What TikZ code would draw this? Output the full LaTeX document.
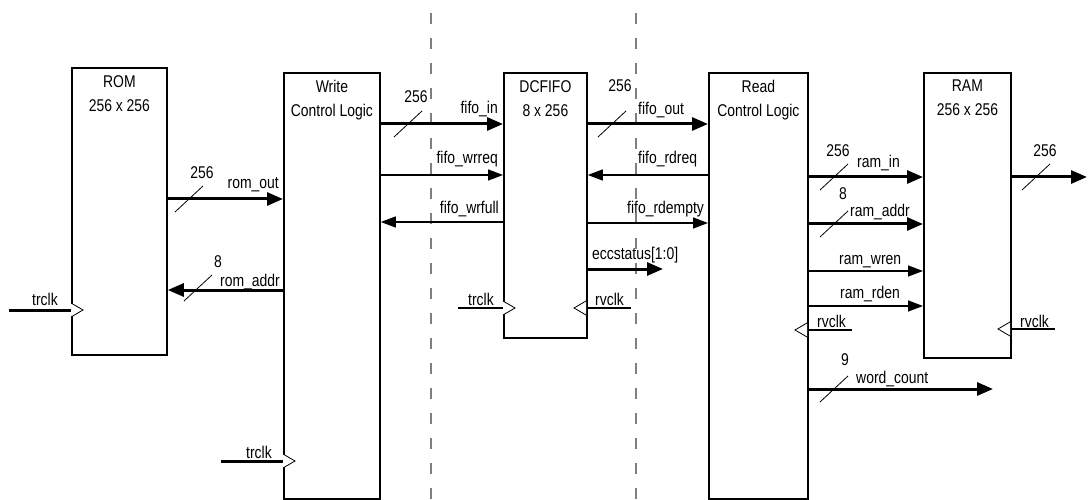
\documentclass[tikz,border=0pt]{standalone}
\usepackage{fontspec}
\setmainfont{Liberation Sans}[FakeStretch=0.82]
\usepackage{tikz}
\usetikzlibrary{arrows.meta}
\definecolor{inkDash}{HTML}{7F7F7F}

\begin{document}
\begin{tikzpicture}[x=1pt, y=-1pt, every node/.style={font=\fontsize{17}{24}\selectfont, inner sep=0pt},
  blk/.style={draw, line width=1.8pt, anchor=north west, inner sep=0pt},
  ttl/.style={anchor=north, align=center, yshift=-8pt},
  lbl/.style={anchor=base west},
  bus/.style={line width=3pt},
  sig/.style={line width=1.4pt},
  bushead/.style={-{Triangle[length=16pt,width=13pt]}},
  sighead/.style={-{Triangle[length=15pt,width=11pt]}},
  tick/.style={line width=0.8pt},
  clk/.style={line width=0.8pt},
  sep/.style={draw=inkDash, line width=1.2pt, dash pattern=on 11pt off 14pt}]
\useasboundingbox (0,0) rectangle (1088,500);

% clock domain boundaries
\coordinate (d1t) at (431,13); \coordinate (d1b) at (431,500);
\coordinate (d2t) at (636,13); \coordinate (d2b) at (636,500);
\draw[sep] (d1t) -- (d1b);
\draw[sep] (d2t) -- (d2b);

% blocks
\node[blk, minimum width=95pt, minimum height=287pt] (rom) at (71,67) {};
\node[blk, minimum width=96pt, minimum height=426pt] (wcl) at (283,72) {};
\node[blk, minimum width=83pt, minimum height=265pt] (fifo) at (503,72) {};
\node[blk, minimum width=99pt, minimum height=426pt] (rcl) at (708,72) {};
\node[blk, minimum width=87pt, minimum height=285pt] (ram) at (923,72) {};
\node[ttl] (trom) at (rom.north) {ROM\\256 x 256};
\node[ttl] (twcl) at (wcl.north) {Write\\Control Logic};
\node[ttl] (tfifo) at (fifo.north) {DCFIFO\\8 x 256};
\node[ttl] (trcl) at (rcl.north) {Read\\Control Logic};
\node[ttl] (tram) at (ram.north) {RAM\\256 x 256};

% free ends
\coordinate (clkA) at (9,310);
\coordinate (clkB) at (221,461);
\coordinate (clkC) at (458,308);
\coordinate (clkD) at (631,308);
\coordinate (eccout) at (663,269);
\coordinate (clkE) at (852,330);
\coordinate (dout) at (1087,177);
\coordinate (clkF) at (1055,329);
\coordinate (wcout) at (993,389);

% write side
\draw[bus, bushead] (rom.east |- 0,199) -- (wcl.west |- 0,199);
\draw[bus, bushead] (wcl.west |- 0,290) -- (rom.east |- 0,290);
\draw[bus] (clkA) -- (rom.west |- 0,310);
\draw[bus] (clkB) -- (wcl.west |- 0,461);
\draw[bus, bushead] (wcl.east |- 0,124) -- (fifo.west |- 0,124);
\draw[sig, sighead] (wcl.east |- 0,175) -- (fifo.west |- 0,175);
\draw[sig, sighead] (fifo.west |- 0,222) -- (wcl.east |- 0,222);
\draw[sig] (clkC) -- (fifo.west |- 0,308);

% read side
\draw[sig] (fifo.east |- 0,308) -- (clkD);
\draw[bus, bushead] (fifo.east |- 0,124) -- (rcl.west |- 0,124);
\draw[sig, sighead] (rcl.west |- 0,175) -- (fifo.east |- 0,175);
\draw[sig, sighead] (fifo.east |- 0,223) -- (rcl.west |- 0,223);
\draw[bus, bushead] (fifo.east |- 0,269) -- (eccout);
\draw[bus, bushead] (rcl.east |- 0,177) -- (ram.west |- 0,177);
\draw[bus, bushead] (rcl.east |- 0,224) -- (ram.west |- 0,224);
\draw[sig, sighead] (rcl.east |- 0,271) -- (ram.west |- 0,271);
\draw[sig, sighead] (rcl.east |- 0,306) -- (ram.west |- 0,306);
\draw[sig] (rcl.east |- 0,330) -- (clkE);
\draw[bus, bushead] (ram.east |- 0,177) -- (dout);
\draw[sig] (ram.east |- 0,329) -- (clkF);
\draw[bus, bushead] (rcl.east |- 0,389) -- (wcout);

% clock inputs
\foreach \px/\py/\d in {71/310/1, 283/461/1, 503/308/1, 586/308/-1, 807/330/-1, 1010/329/-1}
  \draw[clk, fill=white] (\px,\py-7) -- (\px+12*\d,\py) -- (\px,\py+7);

% bus width slashes
\foreach \cx/\cy/\w/\wx/\wy [count=\i] in {189/199/256/202/179, 198/288/8/218/267, 408/124/256/416/103,
    612/124/256/620/92, 834/177/256/838/157, 834/224/8/843/200, 1036/177/256/1045/157, 834/389/9/845/365} {
  \draw[tick] (\cx-14,\cy+13) -- (\cx+14,\cy-13);
  \node[anchor=base] (w\i) at (\wx,\wy) {\w};
}

% signal names
\node[anchor=base east] (lromout) at (279,189) {rom\_out};
\node[anchor=base east] (lromaddr) at (280,287) {rom\_addr};
\node[lbl] (ltrA) at (32,305) {trclk};
\node[lbl] (ltrB) at (246,458) {trclk};
\node[anchor=base east] (lfin) at (498,114) {fifo\_in};
\node[anchor=base east] (lwrreq) at (498,164) {fifo\_wrreq};
\node[anchor=base east] (lwrfull) at (499,214) {fifo\_wrfull};
\node[lbl] (ltrC) at (468,305) {trclk};
\node[lbl] (lrvD) at (595,305) {rvclk};
\node[lbl] (lfout) at (638,115) {fifo\_out};
\node[lbl] (lrdreq) at (638,164) {fifo\_rdreq};
\node[lbl] (lrdempty) at (627,214) {fifo\_rdempty};
\node[lbl] (lecc) at (592,259) {eccstatus[1:0]};
\node[lbl] (lramin) at (857,168) {ram\_in};
\node[lbl] (lramaddr) at (850,217) {ram\_addr};
\node[lbl] (lwren) at (839,265) {ram\_wren};
\node[lbl] (lrden) at (840,298) {ram\_rden};
\node[lbl] (lrvE) at (817,327) {rvclk};
\node[lbl] (lrvF) at (1020,327) {rvclk};
\node[lbl] (lwc) at (856,383) {word\_count};
\end{tikzpicture}
\end{document}
